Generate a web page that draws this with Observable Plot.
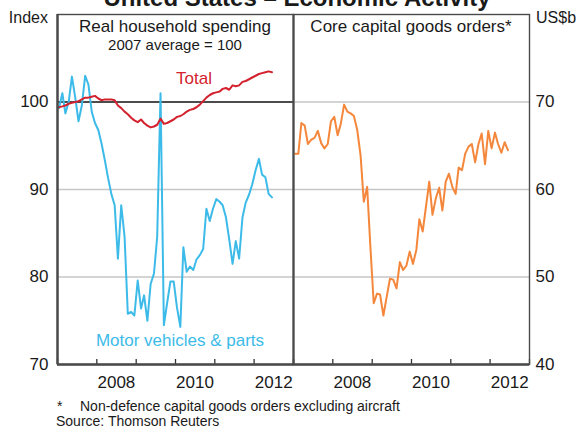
<!DOCTYPE html>
<html><head><meta charset="utf-8">
<script src="https://cdn.jsdelivr.net/npm/d3@7"></script>
<script src="https://cdn.jsdelivr.net/npm/@observablehq/plot@0.6"></script>
<style>
body{margin:0;background:#fff;font-family:"Liberation Sans",Arial,sans-serif;}
#wrap{position:relative;width:581px;height:429px;overflow:hidden;background:#fff;}
#wrap > svg{position:absolute;top:0;}
</style></head><body>
<div id="wrap"></div>
<script>
// ---- data (monthly, from Jan 2007) ----
const startYear = 2007;
const motorVehicles = [
  99.3, 101.0, 98.7, 100.0, 102.9, 100.5, 97.8, 99.6, 103.0, 102.0, 98.9, 97.6,
  96.8, 95.2, 93.4, 91.3, 89.5, 88.2, 82.1, 88.2, 84.6, 75.8, 76.0, 75.6,
  79.6, 76.4, 77.9, 75.0, 79.2, 80.4, 84.6, 101.0, 74.5, 77.0, 79.5, 79.5,
  76.5, 74.3, 83.4, 80.6, 81.2, 80.8, 82.0, 82.5, 83.2, 87.8, 86.4, 87.8,
  88.9, 88.6, 88.2, 86.8, 84.3, 81.5, 84.1, 82.1, 86.8, 88.5, 89.4, 90.6,
  92.2, 93.5, 91.7, 91.4, 89.5, 89.1
];
const totalSpending = [
  99.4, 99.5, 99.6, 99.8, 99.9, 100.0, 100.1, 100.3, 100.5, 100.5, 100.6, 100.7,
  100.4, 100.2, 100.3, 100.3, 100.3, 100.2, 99.6, 99.3, 98.9, 98.6, 98.2, 97.9,
  97.7, 98.0, 97.6, 97.3, 97.1, 97.2, 97.4, 98.1, 97.5, 97.6, 97.8, 98.0,
  98.3, 98.4, 98.6, 98.9, 99.1, 99.2, 99.4, 99.7, 100.1, 100.5, 100.8, 101.0,
  101.1, 101.2, 101.5, 101.6, 101.4, 101.9, 101.8, 101.9, 102.3, 102.4, 102.6, 102.8,
  103.0, 103.2, 103.3, 103.4, 103.5, 103.4
];
const coreOrders = [
  64.1, 64.1, 67.6, 67.3, 65.2, 65.7, 65.9, 66.7, 65.3, 64.7, 65.2, 67.8,
  68.3, 66.2, 67.5, 69.7, 68.9, 68.7, 68.4, 66.8, 63.9, 58.6, 60.3, 53.5,
  47.0, 48.1, 48.0, 45.6, 47.7, 49.8, 49.7, 48.7, 51.7, 50.8, 51.3, 52.9,
  51.5, 53.1, 56.6, 55.2, 58.0, 60.9, 57.1, 59.0, 60.2, 57.6, 60.9, 61.8,
  60.3, 59.5, 62.5, 62.2, 64.1, 64.9, 65.2, 63.1, 65.2, 66.4, 62.9, 66.7,
  64.7, 66.5, 65.2, 64.2, 65.4, 64.5
];
const leftDomain = [70, 110];
const rightDomain = [40, 80];
const leftTicks = [70, 80, 90, 100];
const rightTicks = [40, 50, 60, 70];
const leftGrid = [80, 90];
const leftRef = [100];
const rightGrid = [50, 60, 70];
const yearStart = 2007, yearEnd = 2013;
const yearLabels = [2008, 2010, 2012];

// ---- helpers ----
const month = i => new Date(Date.UTC(startYear, i, 15));
const toRows = arr => arr.map((v, i) => ({date: month(i), value: v}));
const yearBounds = d3.range(yearStart, yearEnd + 1).map(y => new Date(Date.UTC(y, 0, 1)));
const labelDates = yearLabels.map(y => new Date(Date.UTC(y, 6, 1)));
const xDomain = [new Date(Date.UTC(yearStart, 0, 1)), new Date(Date.UTC(yearEnd, 0, 1))];

const FONT = "'Liberation Sans', Arial, sans-serif";
const RED = "#d3222e", BLUE = "#3cbbe9", ORANGE = "#f4873b";
const FRAME = "#4a4a4a", GRID = "#c6c6c6";
const H = 395, MT = 14, MB = 31;
const frameH = H - MT - MB;

function common() {
  return {
    height: H, marginTop: MT, marginBottom: MB,
    x: {type: "utc", domain: xDomain, label: null},
    style: {fontFamily: FONT, fontSize: "17px", color: "#1a1a1a", background: "transparent", overflow: "visible"}
  };
}

const left = Plot.plot({
  ...common(),
  width: 300, marginLeft: 57, marginRight: 7,
  y: {domain: leftDomain, label: null},
  marks: [
    Plot.ruleY(leftGrid, {stroke: GRID, strokeWidth: 1.3}),
    Plot.ruleY(leftRef, {stroke: "#111", strokeWidth: 1.3}),
    Plot.line(toRows(motorVehicles), {x: "date", y: "value", stroke: BLUE, strokeWidth: 2}),
    Plot.line(toRows(totalSpending), {x: "date", y: "value", stroke: RED, strokeWidth: 2}),
    Plot.ruleX(yearBounds, {insetTop: frameH - 5, stroke: "#333", strokeWidth: 1.3}),
    Plot.frame({stroke: FRAME, strokeWidth: 1.4}),
    Plot.ruleX(xDomain.slice(0, 1), {stroke: FRAME, strokeWidth: 2.4}),
    Plot.ruleY(leftDomain.slice(0, 1), {stroke: FRAME, strokeWidth: 2.4}),
    Plot.axisY(leftTicks, {anchor: "left", tickSize: 0, tickPadding: 9, fontSize: 17, label: null}),
    Plot.axisX(labelDates, {anchor: "bottom", tickSize: 0, tickPadding: 11, fontSize: 17, label: null, tickFormat: d => String(d.getUTCFullYear())})
  ]
});
left.style.left = "0px";

const right = Plot.plot({
  ...common(),
  width: 295, marginLeft: 7, marginRight: 52,
  y: {domain: rightDomain, label: null},
  marks: [
    Plot.ruleY(rightGrid, {stroke: GRID, strokeWidth: 1.3}),
    Plot.line(toRows(coreOrders), {x: "date", y: "value", stroke: ORANGE, strokeWidth: 2}),
    Plot.ruleX(yearBounds, {insetTop: frameH - 5, stroke: "#333", strokeWidth: 1.3}),
    Plot.frame({stroke: FRAME, strokeWidth: 1.4}),
    Plot.ruleX(xDomain.slice(0, 1), {stroke: FRAME, strokeWidth: 2}),
    Plot.ruleY(rightDomain.slice(0, 1), {stroke: FRAME, strokeWidth: 2.4}),
    Plot.axisY(rightTicks, {anchor: "right", tickSize: 0, tickPadding: 6, fontSize: 17, label: null}),
    Plot.axisX(labelDates, {anchor: "bottom", tickSize: 0, tickPadding: 11, fontSize: 17, label: null, tickFormat: d => String(d.getUTCFullYear())})
  ]
});
right.style.left = "286px";

const wrap = document.getElementById("wrap");
wrap.appendChild(left);
wrap.appendChild(right);

// ---- text overlay ----
const texts = [
  {t: "United States – Economic Activity", x: 297, y: 6, size: 24, weight: "bold", anchor: "middle"},
  {t: "Index", x: 48, y: 23, size: 16, anchor: "end"},
  {t: "US$b", x: 536, y: 23, size: 16, anchor: "start"},
  {t: "Real household spending", x: 175, y: 32, size: 17, anchor: "middle"},
  {t: "2007 average = 100", x: 175, y: 50, size: 15, anchor: "middle"},
  {t: "Core capital goods orders*", x: 411, y: 32, size: 17, anchor: "middle"},
  {t: "Total", x: 194, y: 84, size: 17, anchor: "middle", fill: RED},
  {t: "Motor vehicles & parts", x: 180, y: 346, size: 17, anchor: "middle", fill: BLUE},
  {t: "*", x: 57, y: 411, size: 14, anchor: "start"},
  {t: "Non-defence capital goods orders excluding aircraft", x: 80, y: 411, size: 14, anchor: "start"},
  {t: "Source: Thomson Reuters", x: 56, y: 426, size: 14, anchor: "start"}
];
const ov = d3.create("svg").attr("width", 581).attr("height", 429)
  .style("position", "absolute").style("left", "0px").style("top", "0px")
  .style("overflow", "visible");
ov.selectAll("text").data(texts).join("text")
  .attr("x", d => d.x).attr("y", d => d.y)
  .attr("text-anchor", d => d.anchor)
  .attr("font-family", FONT)
  .attr("font-size", d => d.size)
  .attr("font-weight", d => d.weight || "normal")
  .attr("fill", d => d.fill || "#1a1a1a")
  .text(d => d.t);
wrap.appendChild(ov.node());
</script>
</body></html>
